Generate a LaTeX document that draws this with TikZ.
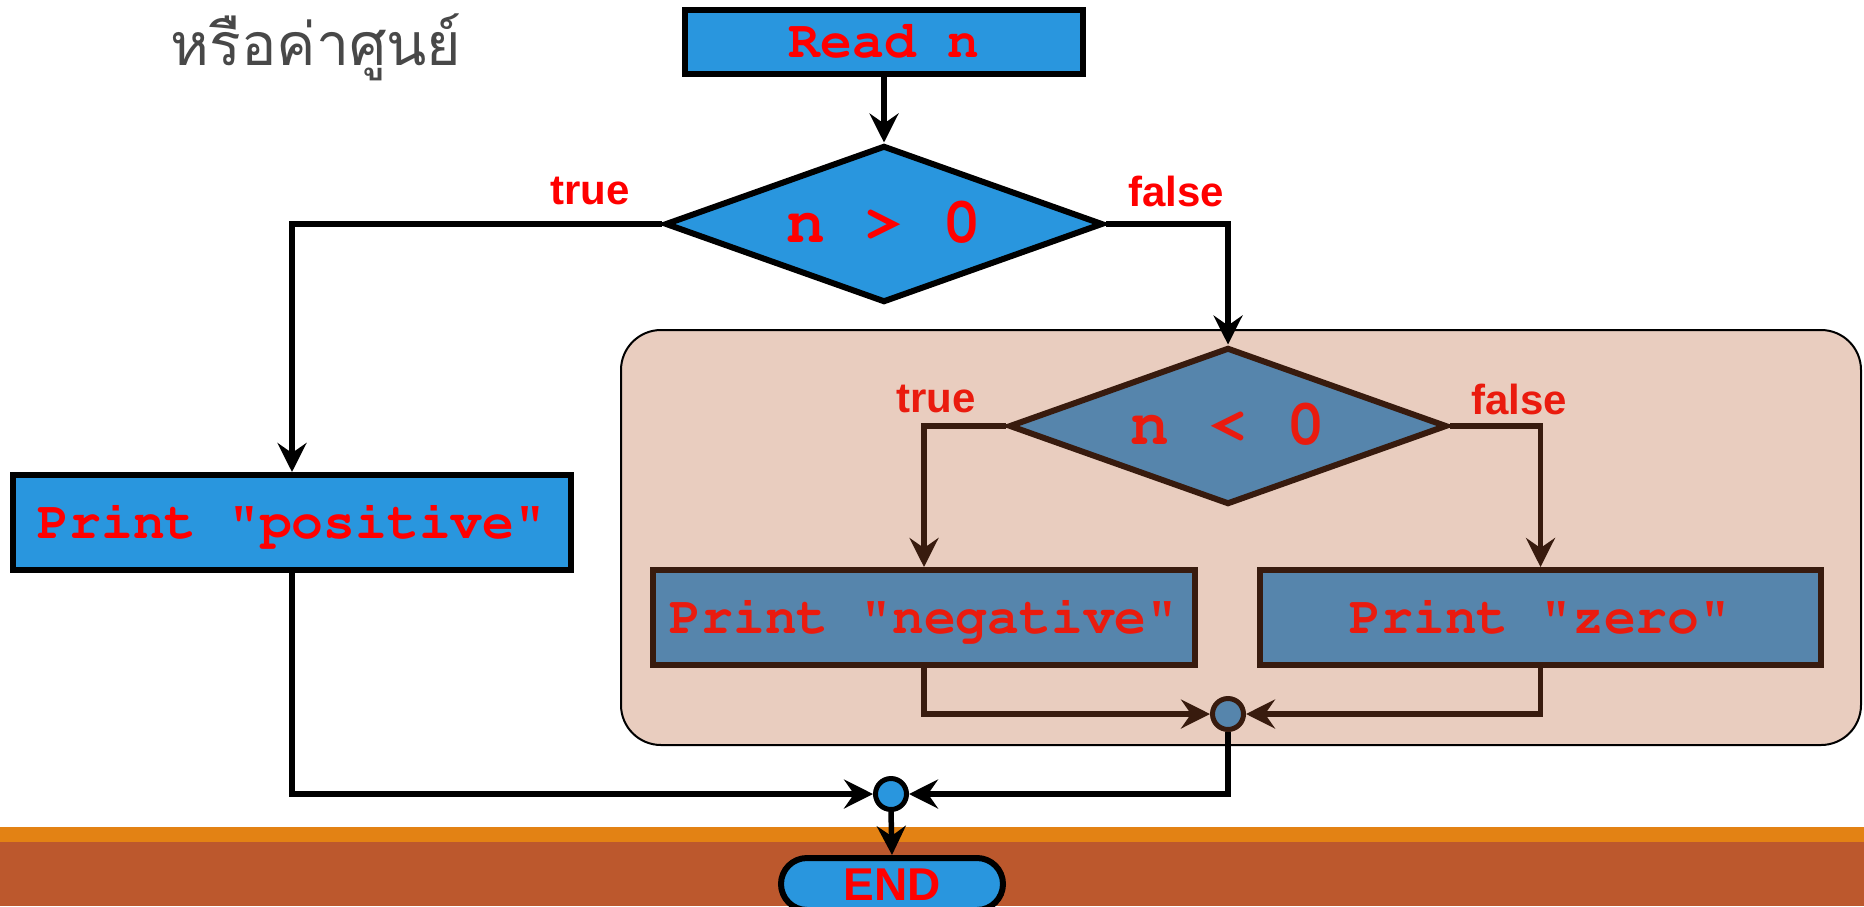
\documentclass[tikz,border=0pt]{standalone}
\usepackage{fontspec}
\setmainfont{Liberation Sans}
\newfontfamily\thaifont[Script=Thai]{Loma}
\newcommand\courierbold{\fontencoding{T1}\fontfamily{pcr}\fontseries{b}\selectfont}
\usetikzlibrary{shapes.geometric,shapes.misc,arrows.meta}

\definecolor{boxblue}{RGB}{41,150,222}
\definecolor{steel}{RGB}{86,133,172}
\definecolor{darkbrown}{RGB}{56,27,14}
\definecolor{panel}{RGB}{233,205,191}
\definecolor{labelred}{RGB}{255,0,0}
\definecolor{innerred}{RGB}{234,27,14}
\definecolor{bandorange}{RGB}{227,130,20}
\definecolor{bandbrown}{RGB}{188,88,45}
\definecolor{thaigray}{RGB}{72,72,72}

\tikzset{
  tip/.tip={Stealth[length=29pt,width=29pt,inset=10pt]},
  flow/.style={draw=black,line width=5.5pt,-tip},
  flowin/.style={draw=darkbrown,line width=5.5pt,-tip},
  procbox/.style={rectangle,draw=black,fill=boxblue,line width=6pt,
    inner sep=0pt,text=labelred,
    font=\courierbold\fontsize{53}{60}\selectfont,
    text height=31pt,text depth=0pt},
  innerbox/.style={procbox,draw=darkbrown,fill=steel,text=innerred},
  decision/.style={diamond,aspect=2.79,draw=black,fill=boxblue,line width=6pt,
    inner sep=0pt,minimum width=438pt,minimum height=157pt,text=labelred,
    font=\courierbold\fontsize{65}{72}\selectfont,
    text height=37pt,text depth=0pt},
  innerdecision/.style={decision,draw=darkbrown,fill=steel,text=innerred},
  joint/.style={circle,draw=black,fill=boxblue,line width=5pt,
    minimum size=31pt,inner sep=0pt},
  innerjoint/.style={joint,draw=darkbrown,fill=steel},
  branch/.style={inner sep=0pt,text=labelred,
    font=\bfseries\fontsize{42}{48}\selectfont},
  innerbranch/.style={branch,text=innerred},
}

\begin{document}
\begin{tikzpicture}[x=1pt,y=-1pt]
\useasboundingbox (0,0) rectangle (1864,906);

% footer bands
\fill[bandorange] (0,827) rectangle (1864,842);
\fill[bandbrown] (0,842) rectangle (1864,906);

% title
\node[anchor=base,inner sep=0pt,text=thaigray,
  font=\thaifont\fontsize{59}{66}\selectfont] (title) at (316,65) {หรือค่าศูนย์};

% panel holding the inner decision
\node[rectangle,rounded corners=40pt,draw=black,line width=2pt,fill=panel,
  minimum width=1240pt,minimum height=415pt,inner sep=0pt] (grp) at (1241,537.5) {};

% nodes
\node[procbox,minimum width=398pt,minimum height=64pt] (read) at (884,42) {Read n};
\node[decision] (d1) at (884,224) {n > 0};
\node[procbox,minimum width=558pt,minimum height=95pt] (pos) at (292,522.5) {Print "positive"};
\node[innerdecision] (d2) at (1228,426) {n < 0};
\node[innerbox,minimum width=542pt,minimum height=95pt] (neg) at (924,617.5) {Print "negative"};
\node[innerbox,minimum width=561pt,minimum height=95pt] (zero) at (1540.5,617.5) {Print "zero"};
\node[innerjoint] (j1) at (1228,714) {};
\node[joint] (j2) at (891,794) {};
\node[rounded rectangle,draw=black,fill=boxblue,line width=6pt,
  minimum width=222pt,minimum height=52pt,inner sep=0pt,text=labelred,
  font=\bfseries\fontsize{46}{50}\selectfont,text height=33pt,text depth=0pt]
  (endnode) at (892,884) {END};

% branch labels
\node[branch] (t1) at (590,191) {true};
\node[branch] (f1) at (1176,191) {false};
\node[innerbranch] (t2) at (936,399) {true};
\node[innerbranch] (f2) at (1519,399) {false};

% connectors
\draw[flow] (read.south) -- (d1.north);
\draw[flow] (d1.west) -| (pos.north);
\draw[flow] (d1.east) -| (d2.north);
\draw[flowin] (d2.west) -| (neg.north);
\draw[flowin] (d2.east) -| (zero.north);
\draw[flowin] (neg.south) |- (j1.west);
\draw[flowin] (zero.south) |- (j1.east);
\draw[flow] (pos.south) |- (j2.west);
\draw[flow] (j1.south) |- (j2.east);
\draw[flow] (j2.south) -- (endnode.north);
\end{tikzpicture}
\end{document}
